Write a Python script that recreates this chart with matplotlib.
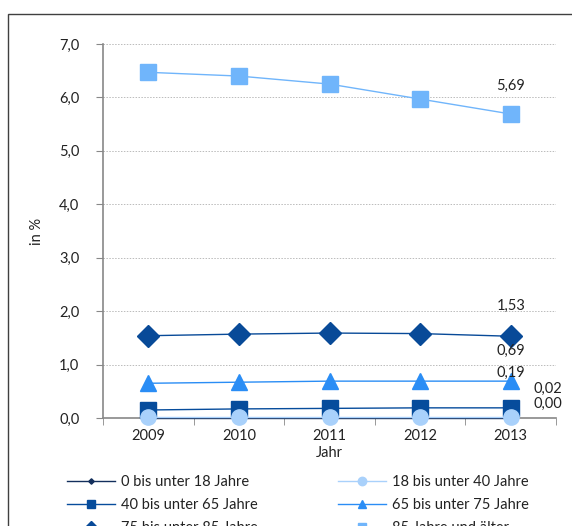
import matplotlib
matplotlib.use("Agg")
import matplotlib.pyplot as plt
from matplotlib.patches import Rectangle
from matplotlib.ticker import FixedLocator, FuncFormatter

years = ["2009", "2010", "2011", "2012", "2013"]
series_names = ["0 bis unter 18 Jahre", "18 bis unter 40 Jahre", "40 bis unter 65 Jahre",
                "65 bis unter 75 Jahre", "75 bis unter 85 Jahre", "85 Jahre und älter"]
v_0_18 = [0.00, 0.00, 0.00, 0.00, 0.00]
v_18_40 = [0.02, 0.02, 0.02, 0.02, 0.02]
v_40_65 = [0.15, 0.17, 0.18, 0.19, 0.19]
v_65_75 = [0.65, 0.67, 0.69, 0.69, 0.69]
v_75_85 = [1.54, 1.57, 1.59, 1.58, 1.53]
v_85 = [6.47, 6.40, 6.25, 5.97, 5.69]
end_labels = ["0,00", "0,02", "0,19", "0,69", "1,53", "5,69"]

plt.rcParams['font.family'] = ['Lato', 'DejaVu Sans']
fig = plt.figure(figsize=(5.72, 5.26), dpi=100)
W, H = 572, 526
ax = fig.add_axes([103 / W, 1 - 418 / H, (556 - 103) / W, (418 - 44) / H])

# frame around figure
fig.patches.append(Rectangle((8 / W, -0.1), 1.2, (1 - 14 / H) + 0.1, transform=fig.transFigure,
                             fill=False, edgecolor='#404040', linewidth=1.0))

x = list(range(len(years)))
styles = [
    (v_0_18, '#132f5c', 'D', 5, 1.0),
    (v_18_40, '#a9d1fb', 'o', 11, 1.0),
    (v_40_65, '#064c9c', 's', 11, 1.0),
    (v_65_75, '#2a8df5', '^', 11, 1.0),
    (v_75_85, '#084a98', 'D', 11, 1.0),
    (v_85, '#70b5fb', 's', 11, 1.0),
]
handles = {}
for i in [5, 4, 3, 2, 0, 1]:
    vals, c, m, ms, lw = styles[i]
    z = 3 + (1 if i == 1 else 0)
    h, = ax.plot(x, vals, color=c, marker=m, markersize=ms, linewidth=lw,
                 markeredgecolor=c, label=series_names[i], zorder=z, clip_on=False)
    handles[i] = h

ax.set_xlim(-0.5, 4.5)
ax.set_ylim(0, 7)
ax.set_yticks([0, 1, 2, 3, 4, 5, 6, 7])
ax.yaxis.set_major_formatter(FuncFormatter(lambda v, p: f"{v:.1f}".replace('.', ',')))
ax.set_xticks(x)
ax.set_xticklabels(years)
ax.xaxis.set_minor_locator(FixedLocator([-0.5, 0.5, 1.5, 2.5, 3.5, 4.5]))
ax.tick_params(axis='x', which='major', length=0, labelsize=10.5, pad=8, colors='#222222')
ax.tick_params(axis='x', which='minor', length=5, direction='out', color='#888888')
ax.tick_params(axis='y', length=5, direction='out', color='#888888', labelsize=10.5, pad=12,
               labelcolor='#222222')
ax.grid(axis='y', color='#bbbbbb', linestyle=(0, (1.5, 1.5)), linewidth=0.7)
ax.set_axisbelow(True)
for s in ['top', 'right']:
    ax.spines[s].set_visible(False)
for s in ['left', 'bottom']:
    ax.spines[s].set_color('#888888')
    ax.spines[s].set_linewidth(1.2)

ax.set_ylabel("in %", fontsize=10.5, color='#222222', labelpad=11)
ax.set_xlabel("Jahr", fontsize=10.5, color='#222222', labelpad=2)

# end labels (offsets in points)
offs = {5: (0, 20), 4: (0, 22), 3: (0, 22), 2: (0, 25), 1: (27, 20), 0: (27, 10)}
for i, (dx, dy) in offs.items():
    ax.annotate(end_labels[i], (4, styles[i][0][4]), xytext=(dx, dy), textcoords='offset points',
                ha='center', va='center', fontsize=10.5, color='#222222')

# row-major legend: pass in column-major order for ncol=2
leg_order = [0, 2, 4, 1, 3, 5]
leg = fig.legend([handles[i] for i in leg_order], [series_names[i] for i in leg_order],
                 ncol=2, loc='upper left', bbox_to_anchor=(54 / W, 1 - 462 / H),
                 frameon=False, fontsize=10.5, handlelength=3.3, handletextpad=0.4,
                 columnspacing=5.5, labelspacing=0.6, markerscale=0.55)
for t in leg.get_texts():
    t.set_color('#222222')

fig.savefig("out.png", dpi=100)
